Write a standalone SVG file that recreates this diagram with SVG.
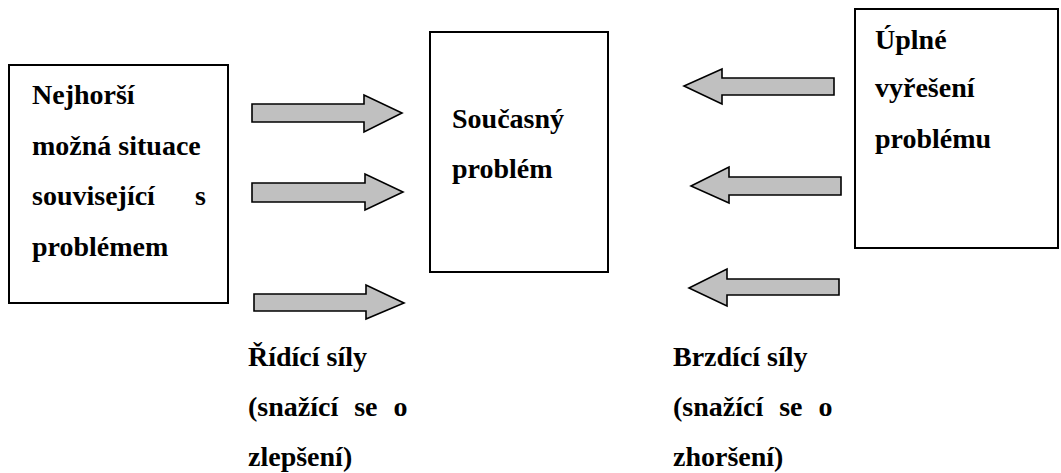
<svg xmlns="http://www.w3.org/2000/svg" width="1061" height="473" viewBox="0 0 1061 473">
  <style>
    .box { fill: #ffffff; stroke: #000000; stroke-width: 2; }
    .arrow { fill: #c0c0c0; stroke: #000000; stroke-width: 1.6; stroke-linejoin: miter; }
    text { font-family: "Liberation Serif", "Times New Roman", serif; font-weight: bold; font-size: 28px; fill: #000000; }
  </style>
  <rect width="1061" height="473" fill="#ffffff"/>

  <!-- Left node: worst case -->
  <g id="worst-case">
    <rect class="box" x="9" y="65" width="219" height="238"/>
    <text x="32" y="104">Nejhorší</text>
    <text x="32" y="155">možná situace</text>
    <text x="32" y="205">související</text>
    <text x="206" y="205" text-anchor="end">s</text>
    <text x="32" y="256">problémem</text>
  </g>

  <!-- Middle node: current problem -->
  <g id="current-problem">
    <rect class="box" x="430" y="32" width="178" height="240"/>
    <text x="452" y="128">Současný</text>
    <text x="452" y="178">problém</text>
  </g>

  <!-- Right node: full resolution -->
  <g id="full-resolution">
    <rect class="box" x="855" y="9" width="203" height="239"/>
    <text x="875" y="49">Úplné</text>
    <text x="875" y="97">vyřešení</text>
    <text x="875" y="148">problému</text>
  </g>

  <!-- Block arrows: driving forces (right) and restraining forces (left) -->
  <g id="connectors">
    <polygon class="arrow" points="252,104 364,104 364,95 402,113 364,132 364,122 252,122"/>
    <polygon class="arrow" points="252,183 365,183 365,174 403,192 365,210 365,202 252,202"/>
    <polygon class="arrow" points="254,294 366,294 366,285 404,303 366,319 366,311 254,311"/>
    <polygon class="arrow" points="834,78 722,78 722,69 684,86 722,104 722,95 834,95"/>
    <polygon class="arrow" points="841,177 729,177 729,167 691,186 729,203 729,195 841,195"/>
    <polygon class="arrow" points="839,279 727,279 727,269 689,288 727,306 727,295 839,295"/>
  </g>

  <!-- Captions under the arrow columns -->
  <g id="driving-label">
    <text x="248" y="366">Řídící síly</text>
    <text x="248" y="416" word-spacing="9">(snažící se o</text>
    <text x="248" y="466">zlepšení)</text>
  </g>
  <g id="restraining-label">
    <text x="673" y="366">Brzdící síly</text>
    <text x="673" y="416" word-spacing="9">(snažící se o</text>
    <text x="673" y="466">zhoršení)</text>
  </g>
</svg>
